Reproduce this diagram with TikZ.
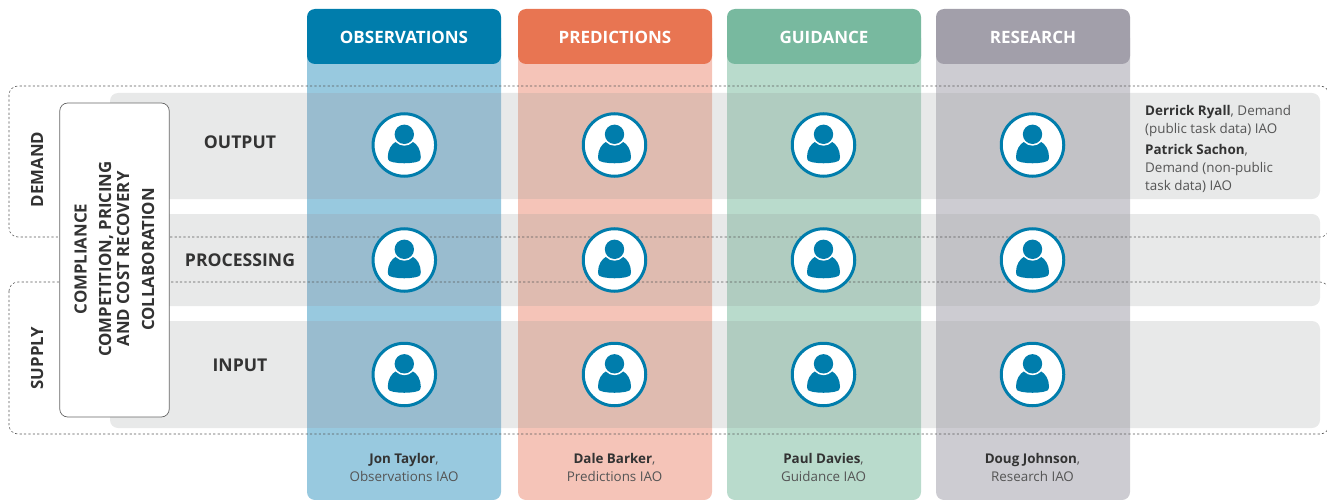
\documentclass[tikz,border=0pt]{standalone}
\usepackage{fontspec}
\setmainfont{Open Sans}
\definecolor{rowgray}{HTML}{E8E9E9}
\definecolor{iconblue}{HTML}{007DAC}
\definecolor{hA}{HTML}{007DAC}\definecolor{bA}{HTML}{98C9DF}\definecolor{oA}{HTML}{99BCCF}
\definecolor{hB}{HTML}{E87552}\definecolor{bB}{HTML}{F5C4B8}\definecolor{oB}{HTML}{DFBBB0}
\definecolor{hC}{HTML}{78B99F}\definecolor{bC}{HTML}{B9DBCC}\definecolor{oC}{HTML}{B0CCC0}
\definecolor{hD}{HTML}{A29FAA}\definecolor{bD}{HTML}{CDCCD2}\definecolor{oD}{HTML}{C2C2C6}
\definecolor{darktxt}{HTML}{333333}
\definecolor{softtxt}{HTML}{555555}
\tikzset{
  rowband/.style={fill=rowgray,rounded corners=8pt},
  zone/.style={draw=black!65,dash pattern=on 2.2pt off 2.2pt,line width=.6pt,rounded corners=9pt},
  headbox/.style={rounded corners=8pt},
  headtext/.style={font=\fontsize{17}{18}\selectfont\bfseries,text=white},
  rowtext/.style={font=\fontsize{17.6}{18}\selectfont\bfseries,text=darktxt},
  sidetext/.style={font=\fontsize{16.8}{18}\selectfont\bfseries,text=darktxt,rotate=90,align=center},
  persontext/.style={font=\fontsize{13.4}{18}\selectfont,text=softtxt,align=center},
  disc/.style={circle,fill=white,draw=iconblue,line width=3pt,minimum size=62.5pt,inner sep=0pt},
  person/.pic={
    \fill[iconblue] (-8,-3.5) .. controls (-13,-1) and (-16.5,5) .. (-16.5,12)
      .. controls (-16.5,16) and (-14,17) .. (-11,17.3)
      .. controls (-4,18.6) and (4,18.6) .. (11,17.3)
      .. controls (14,17) and (16.5,16) .. (16.5,12)
      .. controls (16.5,5) and (13,-1) .. (8,-3.5) -- cycle;
    \fill[white] (0,-10.7) circle[radius=11.4pt];
    \fill[iconblue] (0,-10.7) circle[radius=9.7pt];
  }
}
\newcommand{\bname}[1]{{\color{darktxt}\bfseries #1}}
\begin{document}
\begin{tikzpicture}[x=1pt,y=-1pt]
\useasboundingbox (0,0) rectangle (1327,500);
% rows
\fill[rowband] (110,93) rectangle (1320,199);
\fill[rowband] (110,214) rectangle (1320,306);
\fill[rowband] (110,321) rectangle (1320,428);
% columns
\foreach \l/\n/\t in {307/A/OBSERVATIONS,518/B/PREDICTIONS,727/C/GUIDANCE,936/D/RESEARCH}{
  \pgfmathsetmacro{\r}{\l+194}
  \pgfmathsetmacro{\m}{\l+97}
  \fill[b\n,rounded corners=8pt] (\l,30) rectangle (\r,500);
  \fill[o\n] (\l,93) rectangle (\r,199);
  \fill[o\n] (\l,214) rectangle (\r,306);
  \fill[o\n] (\l,321) rectangle (\r,428);
  \fill[h\n,headbox] (\l,9) rectangle (\r,64);
  \node[headtext] (head\n) at (\m,37) {\t};
}
% dashed zones
\begin{scope}
\clip (0,0) rectangle (1327,500);
\draw[zone] (9,86) rectangle (1329,237);
\draw[zone] (9,282) rectangle (1329,434);
\end{scope}
% cross-cutting box
\node[draw=black!60,fill=white,rounded corners=8pt,line width=.7pt,minimum width=109.5pt,minimum height=314pt,inner sep=0pt] (cross) at (114.5,260) {};
\node[sidetext] (compliance) at (80.5,259) {COMPLIANCE};
\node[sidetext] (competition) at (114,259) {COMPETITION, PRICING\\AND COST RECOVERY};
\node[sidetext] (collab) at (148,259.5) {COLLABORATION};
\node[sidetext] (demand) at (37,169.5) {DEMAND};
\node[sidetext] (supply) at (37,358) {SUPPLY};
% row labels
\node[rowtext] (output) at (240,142) {OUTPUT};
\node[rowtext] (processing) at (240,260) {PROCESSING};
\node[rowtext] (input) at (240,365) {INPUT};
% icons
\foreach \x/\n in {404.3/A,614.5/B,823.5/C,1032.5/D}{
  \foreach \y/\k in {145/1,260/2,374.5/3}{
    \node[disc] (disc\n\k) at (\x,\y) {};
    \pic at (\x,\y) {person};
  }
}
% people
\node[persontext] (jon) at (404,467.5) {\bname{Jon Taylor},\\Observations IAO};
\node[persontext] (dale) at (614.5,467.5) {\bname{Dale Barker},\\Predictions IAO};
\node[persontext] (paul) at (823.5,467.5) {\bname{Paul Davies},\\Guidance IAO};
\node[persontext] (doug) at (1032.5,467.5) {\bname{Doug Johnson},\\Research IAO};
\node[persontext,align=left,anchor=north west,inner sep=0pt] (derrick) at (1145,105) {\bname{Derrick Ryall}, Demand\\(public task data) IAO};
\node[persontext,align=left,anchor=north west,inner sep=0pt] (patrick) at (1145,144) {\bname{Patrick Sachon},\\Demand (non-public\\task data) IAO};
\end{tikzpicture}
\end{document}
